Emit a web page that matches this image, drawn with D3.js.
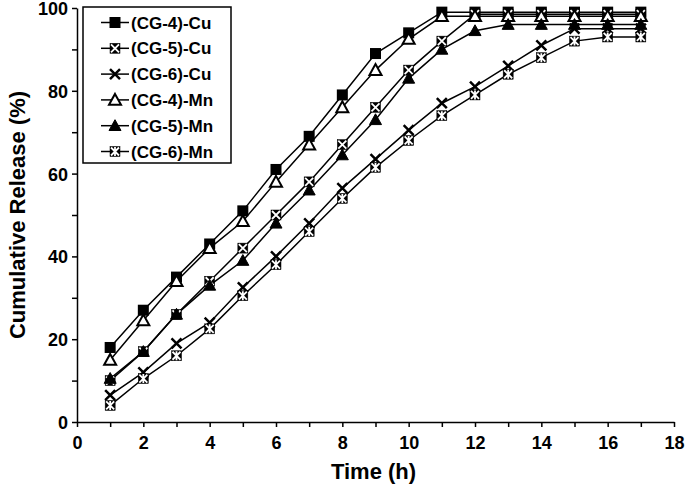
<!DOCTYPE html>
<html>
<head>
<meta charset="utf-8">
<script src="https://cdn.jsdelivr.net/npm/d3@7"></script>
<style>
	body { margin: 0; background: #fff; }
	svg { display: block; font-family: "Liberation Sans", Arial, sans-serif; font-weight: bold; }
</style>
</head>
<body>
<div id="chart"></div>
<script>
// Temps (h)
const time = [1, 2, 3, 4, 5, 6, 7, 8, 9, 10, 11, 12, 13, 14, 15, 16, 17];

// Libération cumulée (%)
const cg4cu = [18, 27, 35, 43, 51, 61, 69, 79, 89, 94, 99, 99, 99, 99, 99, 99, 99];
const cg5cu = [10, 17, 26, 34, 42, 50, 58, 67, 76, 85, 92, 98.5, 98.5, 98.5, 98.5, 98.5, 98.5];
const cg6cu = [6.5, 12, 19, 24, 32.5, 40, 48, 56.5, 63.5, 70.5, 77, 81, 86, 91, 95, 95, 95];
const cg4mn = [15, 24.5, 34, 42, 48.5, 58, 67, 76, 85, 92.5, 98, 98, 98, 98, 98, 98, 98];
const cg5mn = [10.5, 17, 26, 33, 39, 48, 56, 64.5, 73, 83, 90, 94.5, 96, 96, 96, 96, 96];
const cg6mn = [4, 10.5, 16, 22.5, 30.5, 38, 46, 54, 61.5, 68, 74, 79, 84, 88, 92, 93, 93];

const seriesNames = ["(CG-4)-Cu", "(CG-5)-Cu", "(CG-6)-Cu", "(CG-4)-Mn", "(CG-5)-Mn", "(CG-6)-Mn"];
const seriesValues = [cg4cu, cg5cu, cg6cu, cg4mn, cg5mn, cg6mn];
const seriesMarkers = ["square", "boxx", "x", "triangle-open", "triangle", "boxstar"];

const xTicks = [0, 2, 4, 6, 8, 10, 12, 14, 16, 18];
const yTicks = [0, 20, 40, 60, 80, 100];

const width = 685, height = 490;
const margin = { top: 8, right: 11, bottom: 68, left: 77 };
const inner = {
	width: width - margin.left - margin.right,
	height: height - margin.top - margin.bottom
};

const x = d3.scaleLinear().domain([0, 18]).range([0, inner.width]);
const y = d3.scaleLinear().domain([0, 100]).range([inner.height, 0]);

const svg_outer = d3.select("#chart")
	.append("svg")
	.attr("width", width)
	.attr("height", height);

const svg = svg_outer.append("g")
	.attr("transform", "translate(" + margin.left + "," + margin.top + ")");

// dessine un marqueur centré sur (0,0)
function drawMarker(g, type) {
	const s = 5.5;
	if (type === "square") {
		g.append("rect").attr("x", -s).attr("y", -s).attr("width", 2 * s).attr("height", 2 * s).attr("fill", "#000");
	} else if (type === "triangle" || type === "triangle-open") {
		const t = 6;
		g.append("path")
			.attr("d", `M0,${-t}L${t},${t * 0.8}L${-t},${t * 0.8}Z`)
			.attr("fill", type === "triangle" ? "#000" : "#fff")
			.attr("stroke", "#000")
			.attr("stroke-width", type === "triangle" ? 1 : 2);
	} else if (type === "x") {
		const t = 5;
		g.append("path")
			.attr("d", `M${-t},${-t}L${t},${t}M${t},${-t}L${-t},${t}`)
			.attr("stroke", "#000")
			.attr("stroke-width", 2.5);
	} else if (type === "boxx" || type === "boxstar") {
		const t = 5;
		g.append("rect").attr("x", -t).attr("y", -t).attr("width", 2 * t).attr("height", 2 * t)
			.attr("fill", "#000").attr("stroke", "#000").attr("stroke-width", 0.5);
		let d = `M${-t + 1},${-t + 1}L${t - 1},${t - 1}M${t - 1},${-t + 1}L${-t + 1},${t - 1}`;
		if (type === "boxstar") d += `M0,${-t + 0.5}L0,${t - 0.5}`;
		g.append("path").attr("d", d).attr("stroke", "#fff").attr("stroke-width", 1.8);
	}
}

// axes
svg.append("g")
	.attr("class", "xaxis")
	.attr("transform", "translate(0," + inner.height + ")")
	.call(d3.axisBottom(x).ticks(18).tickSize(5).tickSizeOuter(0)
		.tickFormat(d => xTicks.includes(d) ? d : ""));

svg.append("g")
	.attr("class", "yaxis")
	.call(d3.axisLeft(y).ticks(10).tickSize(5).tickSizeOuter(0)
		.tickFormat(d => yTicks.includes(d) ? d : ""));

svg.selectAll(".xaxis path, .yaxis path, .tick line")
	.attr("stroke", "#000")
	.attr("stroke-width", 1.5);
svg.selectAll(".tick text")
	.attr("fill", "#000")
	.style("font-size", "18px")
	.style("font-weight", "bold")
	.style("font-family", "'Liberation Sans', Arial, sans-serif");
svg.selectAll(".xaxis .tick text").attr("dy", "1.05em");
svg.selectAll(".yaxis .tick text").attr("x", -9).attr("dy", "0.36em");

// titres
svg.append("text")
	.attr("x", inner.width / 2 - 2)
	.attr("y", inner.height + 57)
	.attr("text-anchor", "middle")
	.style("font-size", "22px")
	.text("Time (h)");

svg.append("text")
	.attr("transform", "translate(" + (-52) + "," + (inner.height / 2) + ") rotate(-90)")
	.attr("text-anchor", "middle")
	.style("font-size", "22px")
	.text("Cumulative Release (%)");

// séries
const line = d3.line()
	.x((d, i) => x(time[i]))
	.y(d => y(d));

seriesValues.forEach((vals, k) => {
	svg.append("path")
		.datum(vals)
		.attr("fill", "none")
		.attr("stroke", "#000")
		.attr("stroke-width", 1.5)
		.attr("d", line);
});

seriesValues.forEach((vals, k) => {
	const gs = svg.append("g").attr("class", "markers");
	vals.forEach((v, i) => {
		const g = gs.append("g").attr("transform", "translate(" + x(time[i]) + "," + y(v) + ")");
		drawMarker(g, seriesMarkers[k]);
	});
});

// légende
const legend = svg_outer.append("g").attr("transform", "translate(83,7)");
legend.append("rect")
	.attr("width", 148)
	.attr("height", 156)
	.attr("fill", "#fff")
	.attr("stroke", "#000")
	.attr("stroke-width", 1.5);

seriesNames.forEach((name, k) => {
	const yy = 15.5 + k * 25.8;
	legend.append("line")
		.attr("x1", 18).attr("x2", 46)
		.attr("y1", yy).attr("y2", yy)
		.attr("stroke", "#000").attr("stroke-width", 1.5);
	const g = legend.append("g").attr("transform", "translate(32," + yy + ")");
	drawMarker(g, seriesMarkers[k]);
	legend.append("text")
		.attr("x", 48)
		.attr("y", yy)
		.attr("dy", "0.36em")
		.style("font-size", "17px")
		.text(name);
});
</script>
</body>
</html>
